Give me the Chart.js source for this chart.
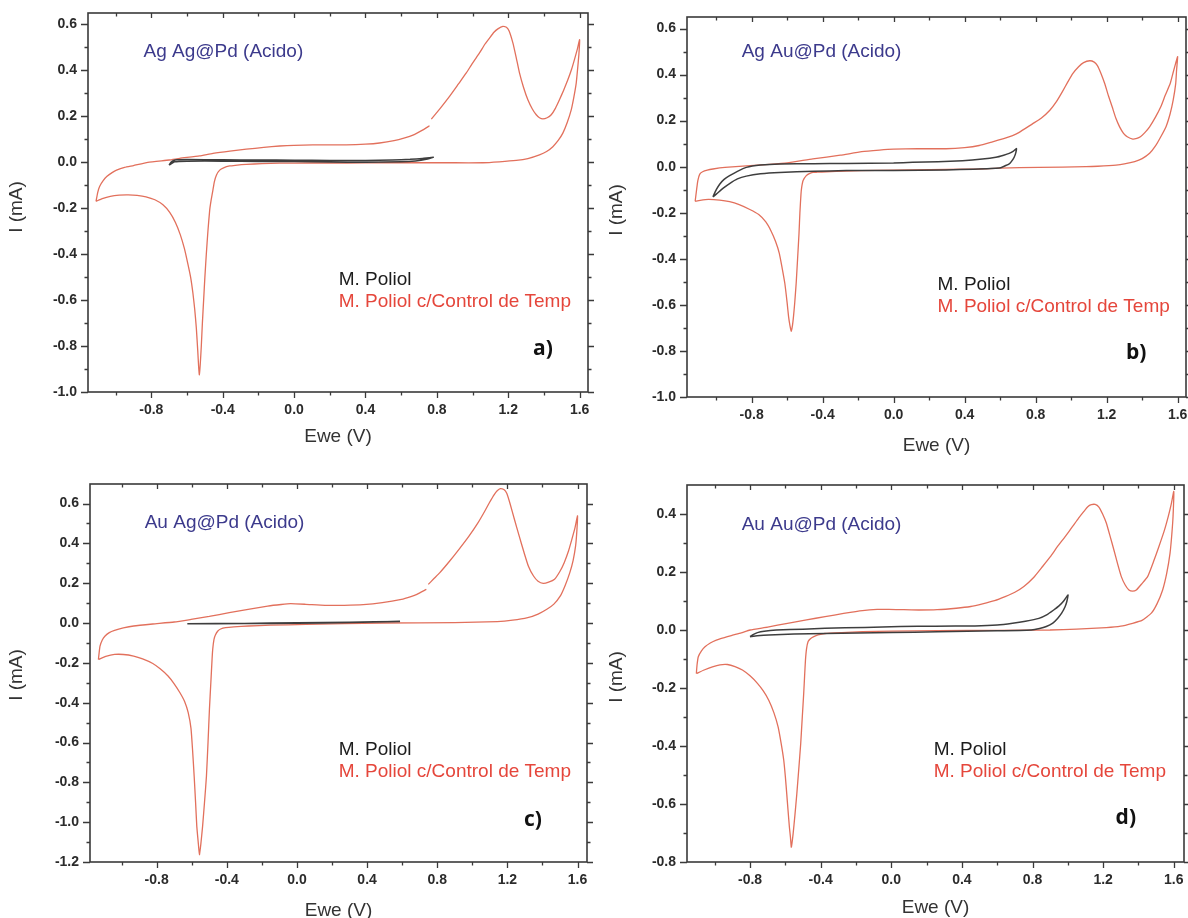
<!DOCTYPE html>
<html>
<head>
<meta charset="utf-8">
<script src="https://cdn.jsdelivr.net/npm/chart.js@4.4.1/dist/chart.umd.min.js"></script>
<style>
  html, body { margin: 0; padding: 0; background: #fff; }
  #wrap { position: relative; width: 1188px; height: 918px; overflow: hidden; background: #fff; }
  .panel { position: absolute; width: 594px; height: 459px; }
  .panel canvas { display: block; }
</style>
</head>
<body>
<div id="wrap">
  <div class="panel" style="left:0;top:0"><canvas id="pa" width="594" height="459"></canvas></div>
  <div class="panel" style="left:594px;top:0"><canvas id="pb" width="594" height="459"></canvas></div>
  <div class="panel" style="left:0;top:459px"><canvas id="pc" width="594" height="459"></canvas></div>
  <div class="panel" style="left:594px;top:459px"><canvas id="pd" width="594" height="459"></canvas></div>
</div>
<script>
// Series names, panel names and axis titles
const seriesNames = ['M. Poliol', 'M. Poliol c/Control de Temp'];
const panelTitles = ['Ag Ag@Pd (Acido)', 'Ag Au@Pd (Acido)', 'Au Ag@Pd (Acido)', 'Au Au@Pd (Acido)'];
const panelTags = ['a)', 'b)', 'c)', 'd)'];
const xAxisTitle = 'Ewe (V)';
const yAxisTitle = 'I (mA)';

// Tick positions: labelled (major) and unlabelled (minor)
const xMajorTicks = [-0.8, -0.4, 0.0, 0.4, 0.8, 1.2, 1.6];
const xMinorTicks = [-1.0, -0.6, -0.2, 0.2, 0.6, 1.0, 1.4];
const yMajorTicks = [
  [-1.0, -0.8, -0.6, -0.4, -0.2, 0.0, 0.2, 0.4, 0.6],
  [-1.0, -0.8, -0.6, -0.4, -0.2, 0.0, 0.2, 0.4, 0.6],
  [-1.2, -1.0, -0.8, -0.6, -0.4, -0.2, 0.0, 0.2, 0.4, 0.6],
  [-0.8, -0.6, -0.4, -0.2, 0.0, 0.2, 0.4]
];
const yMinorTicks = [
  [-0.9, -0.7, -0.5, -0.3, -0.1, 0.1, 0.3, 0.5],
  [-0.9, -0.7, -0.5, -0.3, -0.1, 0.1, 0.3, 0.5],
  [-1.1, -0.9, -0.7, -0.5, -0.3, -0.1, 0.1, 0.3, 0.5],
  [-0.7, -0.5, -0.3, -0.1, 0.1, 0.3]
];

// Voltammograms as [Ewe (V), I (mA)] in scan order; null marks a break in the trace
const aPoliol = [[-0.700,-0.012],[-0.690,0.000],[-0.678,0.007],[-0.655,0.011],[-0.600,0.012],[-0.400,0.011],[-0.200,0.010],[0.000,0.009],[0.200,0.008],[0.400,0.008],[0.550,0.010],[0.650,0.013],[0.720,0.017],[0.780,0.022],[0.740,0.013],[0.680,0.006],[0.600,0.002],[0.400,0.000],[0.200,0.001],[0.000,0.003],[-0.200,0.004],[-0.400,0.005],[-0.600,0.005],[-0.670,0.002],[-0.700,-0.012]];
const aTemp = [[-1.110,-0.170],[-1.100,-0.130],[-1.090,-0.105],[-1.070,-0.080],[-1.050,-0.062],[-1.020,-0.045],[-0.995,-0.034],[-0.950,-0.022],[-0.900,-0.014],[-0.820,0.000],[-0.700,0.010],[-0.641,0.017],[-0.530,0.028],[-0.455,0.039],[-0.360,0.049],[-0.268,0.057],[-0.170,0.065],[-0.081,0.071],[0.000,0.074],[0.105,0.076],[0.200,0.076],[0.292,0.076],[0.400,0.079],[0.479,0.084],[0.560,0.094],[0.620,0.106],[0.666,0.118],[0.722,0.141],[0.759,0.159],[0.764,null],[0.769,0.188],[0.820,0.236],[0.871,0.287],[0.920,0.340],[0.965,0.389],[1.000,0.432],[1.039,0.476],[1.070,0.515],[1.095,0.541],[1.120,0.566],[1.142,0.581],[1.170,0.592],[1.190,0.588],[1.205,0.572],[1.226,0.520],[1.245,0.455],[1.263,0.389],[1.285,0.328],[1.310,0.272],[1.335,0.232],[1.357,0.207],[1.375,0.194],[1.394,0.189],[1.418,0.194],[1.441,0.207],[1.465,0.236],[1.487,0.272],[1.510,0.313],[1.534,0.359],[1.555,0.405],[1.571,0.447],[1.588,0.495],[1.600,0.534],[1.596,0.470],[1.588,0.400],[1.581,0.345],[1.568,0.285],[1.553,0.228],[1.530,0.172],[1.506,0.127],[1.480,0.095],[1.450,0.068],[1.415,0.047],[1.375,0.032],[1.310,0.016],[1.245,0.008],[1.150,0.002],[1.058,-0.002],[0.900,-0.002],[0.700,-0.002],[0.500,-0.002],[0.300,-0.003],[0.100,-0.003],[-0.081,-0.004],[-0.180,-0.006],[-0.268,-0.009],[-0.330,-0.013],[-0.361,-0.016],[-0.395,-0.024],[-0.417,-0.034],[-0.435,-0.055],[-0.447,-0.085],[-0.455,-0.121],[-0.465,-0.165],[-0.473,-0.208],[-0.483,-0.300],[-0.492,-0.400],[-0.500,-0.500],[-0.507,-0.600],[-0.514,-0.700],[-0.520,-0.800],[-0.526,-0.880],[-0.531,-0.925],[-0.535,-0.890],[-0.540,-0.820],[-0.548,-0.720],[-0.557,-0.640],[-0.567,-0.570],[-0.580,-0.500],[-0.596,-0.440],[-0.615,-0.375],[-0.638,-0.315],[-0.665,-0.262],[-0.697,-0.218],[-0.735,-0.185],[-0.780,-0.163],[-0.830,-0.150],[-0.880,-0.144],[-0.930,-0.142],[-0.980,-0.143],[-1.030,-0.148],[-1.075,-0.158],[-1.110,-0.170]];

const bPoliol = [[-1.018,-0.131],[-0.999,-0.100],[-0.980,-0.076],[-0.955,-0.055],[-0.924,-0.039],[-0.880,-0.020],[-0.830,-0.003],[-0.750,0.007],[-0.643,0.012],[-0.450,0.013],[-0.267,0.014],[0.000,0.016],[0.107,0.019],[0.250,0.022],[0.388,0.026],[0.500,0.033],[0.576,0.041],[0.620,0.050],[0.651,0.058],[0.675,0.068],[0.692,0.079],[0.688,0.060],[0.679,0.041],[0.665,0.024],[0.651,0.012],[0.620,0.001],[0.595,-0.006],[0.450,-0.011],[0.295,-0.014],[0.000,-0.016],[-0.267,-0.017],[-0.450,-0.020],[-0.643,-0.025],[-0.750,-0.031],[-0.830,-0.041],[-0.880,-0.053],[-0.924,-0.073],[-0.960,-0.093],[-0.999,-0.119],[-1.018,-0.131]];
const bTemp = [[-1.118,-0.150],[-1.110,-0.100],[-1.103,-0.060],[-1.092,-0.032],[-1.076,-0.022],[-1.050,-0.015],[-1.018,-0.010],[-0.950,-0.003],[-0.830,0.004],[-0.700,0.010],[-0.600,0.016],[-0.455,0.034],[-0.300,0.050],[-0.180,0.065],[-0.080,0.072],[0.000,0.076],[0.135,0.078],[0.295,0.078],[0.400,0.083],[0.482,0.092],[0.557,0.108],[0.620,0.122],[0.670,0.135],[0.705,0.148],[0.782,0.186],[0.831,0.210],[0.880,0.245],[0.915,0.280],[0.950,0.325],[0.979,0.365],[1.010,0.405],[1.042,0.434],[1.070,0.452],[1.105,0.460],[1.130,0.454],[1.147,0.440],[1.168,0.405],[1.189,0.361],[1.210,0.308],[1.231,0.260],[1.252,0.210],[1.273,0.173],[1.295,0.145],[1.316,0.130],[1.347,0.120],[1.370,0.123],[1.390,0.130],[1.415,0.148],[1.442,0.173],[1.475,0.215],[1.505,0.260],[1.530,0.310],[1.558,0.361],[1.575,0.410],[1.589,0.450],[1.600,0.478],[1.594,0.420],[1.589,0.361],[1.575,0.290],[1.558,0.231],[1.535,0.175],[1.505,0.130],[1.475,0.090],[1.442,0.058],[1.400,0.035],[1.358,0.022],[1.300,0.012],[1.253,0.007],[1.150,0.002],[1.084,0.000],[0.820,-0.003],[0.600,-0.006],[0.482,-0.010],[0.300,-0.012],[0.107,-0.014],[-0.100,-0.016],[-0.267,-0.019],[-0.380,-0.022],[-0.430,-0.024],[-0.455,-0.025],[-0.475,-0.030],[-0.492,-0.039],[-0.510,-0.060],[-0.518,-0.090],[-0.522,-0.120],[-0.528,-0.200],[-0.533,-0.289],[-0.541,-0.400],[-0.549,-0.506],[-0.557,-0.590],[-0.564,-0.650],[-0.570,-0.690],[-0.577,-0.715],[-0.584,-0.690],[-0.592,-0.650],[-0.600,-0.590],[-0.613,-0.506],[-0.628,-0.440],[-0.644,-0.376],[-0.665,-0.325],[-0.690,-0.280],[-0.720,-0.240],[-0.760,-0.208],[-0.810,-0.186],[-0.870,-0.165],[-0.924,-0.152],[-0.980,-0.145],[-1.044,-0.142],[-1.090,-0.146],[-1.118,-0.150]];

const cPoliol = [[-0.625,-0.004],[-0.300,-0.002],[0.000,0.001],[0.300,0.004],[0.588,0.008],[0.300,0.002],[0.000,-0.001],[-0.300,-0.003],[-0.625,-0.004]];
const cTemp = [[-1.132,-0.183],[-1.128,-0.150],[-1.123,-0.116],[-1.110,-0.085],[-1.094,-0.065],[-1.070,-0.048],[-1.040,-0.037],[-0.990,-0.025],[-0.931,-0.015],[-0.822,-0.005],[-0.700,0.005],[-0.604,0.018],[-0.500,0.033],[-0.386,0.052],[-0.270,0.070],[-0.167,0.085],[-0.090,0.093],[-0.036,0.097],[0.050,0.094],[0.160,0.089],[0.270,0.089],[0.378,0.092],[0.487,0.102],[0.596,0.119],[0.650,0.133],[0.684,0.144],[0.738,0.169],[0.744,null],[0.749,0.194],[0.780,0.222],[0.815,0.253],[0.870,0.310],[0.924,0.370],[0.980,0.435],[1.033,0.504],[1.070,0.560],[1.098,0.605],[1.125,0.645],[1.142,0.664],[1.160,0.675],[1.180,0.670],[1.197,0.650],[1.215,0.600],[1.240,0.521],[1.268,0.435],[1.295,0.354],[1.320,0.285],[1.349,0.236],[1.375,0.210],[1.404,0.199],[1.435,0.205],[1.469,0.220],[1.500,0.260],[1.524,0.303],[1.548,0.360],[1.568,0.421],[1.586,0.480],[1.600,0.538],[1.596,0.460],[1.589,0.387],[1.575,0.315],[1.556,0.253],[1.530,0.190],[1.502,0.136],[1.465,0.095],[1.425,0.069],[1.375,0.045],[1.316,0.027],[1.230,0.014],[1.142,0.007],[0.900,0.002],[0.487,0.000],[0.051,-0.007],[-0.150,-0.011],[-0.276,-0.015],[-0.360,-0.019],[-0.407,-0.023],[-0.435,-0.030],[-0.451,-0.040],[-0.465,-0.060],[-0.473,-0.082],[-0.480,-0.130],[-0.484,-0.183],[-0.491,-0.300],[-0.499,-0.434],[-0.507,-0.600],[-0.516,-0.769],[-0.527,-0.900],[-0.538,-1.021],[-0.548,-1.110],[-0.556,-1.163],[-0.563,-1.100],[-0.571,-1.021],[-0.578,-0.900],[-0.586,-0.769],[-0.595,-0.640],[-0.604,-0.530],[-0.620,-0.450],[-0.640,-0.395],[-0.667,-0.350],[-0.700,-0.305],[-0.735,-0.266],[-0.780,-0.230],[-0.822,-0.203],[-0.880,-0.180],[-0.931,-0.166],[-0.990,-0.158],[-1.040,-0.158],[-1.090,-0.168],[-1.132,-0.183]];

const dPoliol = [[-0.800,-0.023],[-0.780,-0.015],[-0.758,-0.009],[-0.720,-0.004],[-0.651,0.000],[-0.500,0.003],[-0.375,0.006],[-0.150,0.009],[0.050,0.012],[0.250,0.013],[0.474,0.014],[0.600,0.017],[0.687,0.023],[0.760,0.030],[0.836,0.040],[0.880,0.052],[0.920,0.069],[0.950,0.083],[0.974,0.098],[1.001,0.121],[0.995,0.100],[0.985,0.081],[0.965,0.058],[0.942,0.040],[0.915,0.024],[0.878,0.012],[0.840,0.005],[0.793,0.000],[0.600,-0.003],[0.262,-0.006],[0.000,-0.009],[-0.375,-0.012],[-0.550,-0.014],[-0.694,-0.017],[-0.760,-0.020],[-0.800,-0.023]];
const dTemp = [[-1.104,-0.150],[-1.100,-0.120],[-1.093,-0.092],[-1.075,-0.072],[-1.055,-0.058],[-1.025,-0.045],[-0.991,-0.035],[-0.950,-0.027],[-0.906,-0.019],[-0.850,-0.010],[-0.800,0.000],[-0.700,0.010],[-0.588,0.023],[-0.480,0.035],[-0.375,0.046],[-0.270,0.057],[-0.163,0.067],[-0.080,0.071],[-0.014,0.071],[0.070,0.070],[0.156,0.069],[0.260,0.070],[0.368,0.075],[0.450,0.081],[0.517,0.090],[0.585,0.101],[0.645,0.115],[0.700,0.130],[0.751,0.150],[0.805,0.180],[0.857,0.219],[0.900,0.252],[0.942,0.288],[0.985,0.322],[1.027,0.357],[1.060,0.385],[1.091,0.409],[1.113,0.425],[1.133,0.432],[1.155,0.433],[1.176,0.424],[1.197,0.400],[1.218,0.369],[1.240,0.322],[1.261,0.276],[1.282,0.228],[1.303,0.184],[1.325,0.155],[1.346,0.138],[1.367,0.134],[1.388,0.138],[1.420,0.160],[1.452,0.184],[1.485,0.235],[1.516,0.288],[1.545,0.340],[1.569,0.392],[1.586,0.435],[1.600,0.478],[1.596,0.392],[1.589,0.330],[1.579,0.265],[1.560,0.195],[1.537,0.138],[1.505,0.090],[1.473,0.058],[1.420,0.033],[1.367,0.023],[1.300,0.013],[1.218,0.008],[1.050,0.003],[0.899,0.000],[0.600,-0.001],[0.262,-0.002],[0.000,-0.004],[-0.163,-0.006],[-0.280,-0.009],[-0.375,-0.012],[-0.415,-0.017],[-0.439,-0.023],[-0.458,-0.030],[-0.471,-0.040],[-0.480,-0.065],[-0.486,-0.104],[-0.491,-0.160],[-0.496,-0.219],[-0.504,-0.300],[-0.513,-0.392],[-0.524,-0.480],[-0.535,-0.565],[-0.546,-0.640],[-0.556,-0.703],[-0.566,-0.749],[-0.571,-0.715],[-0.577,-0.680],[-0.585,-0.620],[-0.592,-0.565],[-0.600,-0.505],[-0.609,-0.449],[-0.624,-0.390],[-0.641,-0.334],[-0.665,-0.285],[-0.694,-0.242],[-0.725,-0.210],[-0.758,-0.184],[-0.800,-0.158],[-0.843,-0.138],[-0.885,-0.126],[-0.928,-0.119],[-0.970,-0.120],[-1.013,-0.127],[-1.060,-0.138],[-1.104,-0.150]];

// Axis ranges per panel
const xRanges = [[-1.155, 1.647], [-1.164, 1.647], [-1.18, 1.654], [-1.157, 1.658]];
const yRanges = [[-1.0, 0.65], [-1.0, 0.65], [-1.2, 0.698], [-0.8, 0.5]];

// Styling
const FONT = '"Liberation Sans", Arial, Helvetica, sans-serif';
const lineColors = ['rgb(62,62,62)', 'rgb(226,112,92)'];
const lineWidths = [1.5, 1.3];
const legendColors = ['#1c1c1c', '#e5463b'];
const titleColor = '#3c3a8c';
const axisColor = '#3a3a3a';

// Layout of each panel inside its 594x459 canvas
const layouts = [
  { id: 'pa', area: { l: 88, t: 13, r: 588, b: 392 }, title: [143.5, 52], legend: [338.7, 280], tag: [533, 349], xTitleY: 437, yTitle: [17, 207] },
  { id: 'pb', area: { l: 93, t: 17, r: 592, b: 397 }, title: [147.7, 52], legend: [343.5, 285], tag: [532, 353], xTitleY: 446, yTitle: [23, 210] },
  { id: 'pc', area: { l: 90, t: 25, r: 587, b: 403 }, title: [144.7, 64], legend: [338.7, 291], tag: [524, 361], xTitleY: 452, yTitle: [17, 216] },
  { id: 'pd', area: { l: 93, t: 26, r: 590, b: 403 }, title: [147.7, 66], legend: [339.7, 291], tag: [521.6, 359], xTitleY: 449, yTitle: [23, 218] }
];
const series = [[aPoliol, aTemp], [bPoliol, bTemp], [cPoliol, cTemp], [dPoliol, dTemp]];

const toPoints = arr => arr.map(([e, i]) => ({ x: e, y: i }));
const fmt = v => (Math.abs(v) < 1e-9 ? 0 : v).toFixed(1);
const isIn = (list, v) => list.some(m => Math.abs(m - v) < 1e-9);
const tickList = (major, minor) => major.concat(minor).sort((p, q) => p - q).map(v => ({ value: v }));

// Frame on all four sides, with major/minor tick marks taken from the scales
const frameTicks = {
  id: 'frameTicks',
  afterDraw(chart) {
    const { ctx, chartArea: a, scales: { x, y } } = chart;
    ctx.save();
    ctx.strokeStyle = axisColor;
    ctx.lineWidth = 1.6;
    ctx.strokeRect(a.left, a.top, a.right - a.left, a.bottom - a.top);
    ctx.lineWidth = 1.3;
    ctx.beginPath();
    x.ticks.forEach(t => {
      const px = Math.round(x.getPixelForValue(t.value)) + 0.5;
      const major = t.label !== '';
      ctx.moveTo(px, a.bottom); ctx.lineTo(px, a.bottom + (major ? 6 : 3.5));
      ctx.moveTo(px, a.top); ctx.lineTo(px, a.top + (major ? 5 : 3.5));
    });
    y.ticks.forEach(t => {
      const py = Math.round(y.getPixelForValue(t.value)) + 0.5;
      const major = t.label !== '';
      ctx.moveTo(a.left, py); ctx.lineTo(a.left - (major ? 7 : 3.5), py);
      ctx.moveTo(a.right, py); ctx.lineTo(a.right + (major ? 6 : 3.5), py);
    });
    ctx.stroke();
    ctx.restore();
  }
};

// Panel name, legend entries, panel tag and axis titles
function panelText(k) {
  const L = layouts[k];
  return {
    id: 'panelText',
    afterDraw(chart) {
      const { ctx, chartArea: a } = chart;
      ctx.save();
      ctx.textBaseline = 'middle';
      ctx.textAlign = 'left';
      ctx.font = '19px ' + FONT;
      ctx.fillStyle = titleColor;
      ctx.fillText(panelTitles[k], L.title[0], L.title[1]);
      chart.data.datasets.forEach((d, j) => {
        ctx.fillStyle = legendColors[j];
        ctx.fillText(d.label, L.legend[0], L.legend[1] + j * 22);
      });
      ctx.font = 'bold 21px "Open Sans", ' + FONT;
      ctx.fillStyle = '#111';
      ctx.fillText(panelTags[k], L.tag[0], L.tag[1]);
      ctx.font = '19px ' + FONT;
      ctx.fillStyle = '#333';
      ctx.textAlign = 'center';
      ctx.fillText(xAxisTitle, (a.left + a.right) / 2, L.xTitleY);
      ctx.translate(L.yTitle[0], L.yTitle[1]);
      ctx.rotate(-Math.PI / 2);
      ctx.fillText(yAxisTitle, 0, 0);
      ctx.restore();
    }
  };
}

layouts.forEach((L, k) => {
  const canvas = document.getElementById(L.id);
  const W = canvas.width, H = canvas.height;
  const tickFont = { family: FONT, size: 14, weight: 'bold' };
  new Chart(canvas.getContext('2d'), {
    type: 'scatter',
    data: {
      datasets: series[k].map((s, j) => ({
        label: seriesNames[j],
        data: toPoints(s),
        showLine: true,
        borderColor: lineColors[j],
        borderWidth: lineWidths[j],
        pointRadius: 0,
        pointHoverRadius: 0,
        tension: 0.15,
        spanGaps: false,
        fill: false
      }))
    },
    options: {
      responsive: false,
      animation: false,
      devicePixelRatio: 1,
      events: [],
      layout: { padding: { left: 0, top: L.area.t, right: W - L.area.r, bottom: 0 } },
      plugins: { legend: { display: false }, tooltip: { enabled: false } },
      scales: {
        x: {
          type: 'linear', position: 'bottom',
          min: xRanges[k][0], max: xRanges[k][1],
          grid: { display: false, drawTicks: false },
          border: { display: false },
          afterBuildTicks(s) { s.ticks = tickList(xMajorTicks, xMinorTicks); },
          ticks: {
            autoSkip: false, maxRotation: 0,
            padding: 10, font: tickFont, color: '#2b2b2b',
            callback: v => (isIn(xMajorTicks, v) ? fmt(v) : '')
          },
          afterFit(s) { s.height = H - L.area.b; s.paddingLeft = 0; s.paddingRight = 0; }
        },
        y: {
          type: 'linear', position: 'left',
          min: yRanges[k][0], max: yRanges[k][1],
          grid: { display: false, drawTicks: false },
          border: { display: false },
          afterBuildTicks(s) { s.ticks = tickList(yMajorTicks[k], yMinorTicks[k]); },
          ticks: {
            autoSkip: false,
            padding: 11, font: tickFont, color: '#2b2b2b',
            callback: v => (isIn(yMajorTicks[k], v) ? fmt(v) : '')
          },
          afterFit(s) { s.width = L.area.l; s.paddingTop = 0; s.paddingBottom = 0; }
        }
      }
    },
    plugins: [frameTicks, panelText(k)]
  });
});
</script>
</body>
</html>
